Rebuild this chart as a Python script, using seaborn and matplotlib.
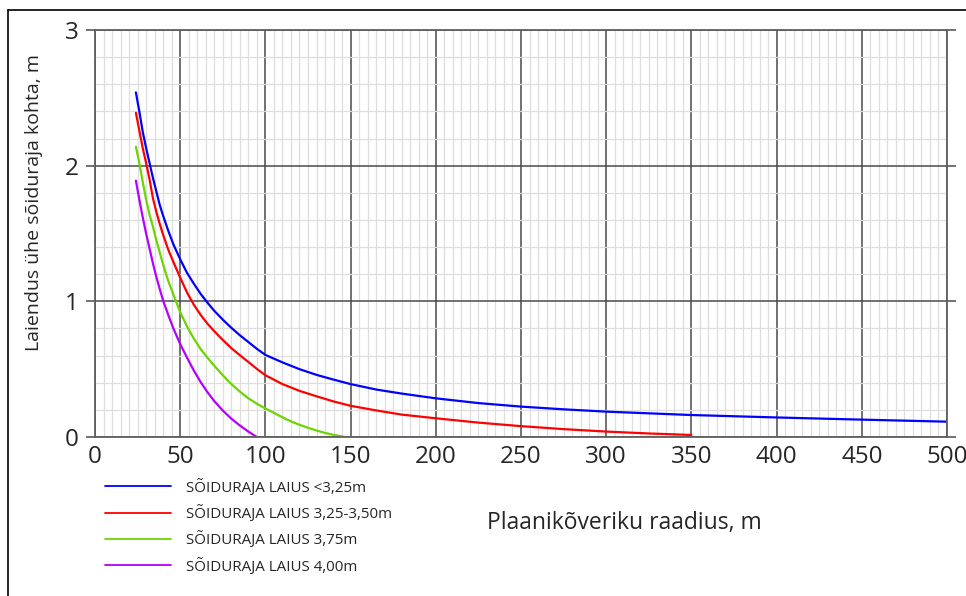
import numpy as np
import pandas as pd
import matplotlib
matplotlib.use("Agg")
import matplotlib.pyplot as plt
from matplotlib.lines import Line2D
from matplotlib.ticker import MultipleLocator
import seaborn as sns

# values (radius m -> widening per lane m)
r_blue = [24, 26, 28, 30, 32, 34, 36, 38, 40, 43, 46, 50, 54, 58, 62, 66, 70,
          75, 80, 85, 90, 95, 100, 110, 120, 130, 140, 150, 165, 180, 200, 225,
          250, 275, 300, 350, 400, 450, 500]
y_blue = [2.54, 2.40, 2.25, 2.13, 2.02, 1.91, 1.81, 1.71, 1.63, 1.52, 1.42,
          1.31, 1.21, 1.13, 1.055, 0.99, 0.93, 0.865, 0.805, 0.75, 0.70, 0.65,
          0.605, 0.55, 0.50, 0.458, 0.423, 0.390, 0.35, 0.32, 0.285, 0.25,
          0.224, 0.204, 0.187, 0.162, 0.144, 0.128, 0.113]

r_red = [24, 26, 28, 30, 32, 34, 36, 38, 40, 43, 46, 50, 54, 58, 62, 66, 70,
         75, 80, 85, 90, 95, 100, 110, 120, 130, 140, 150, 165, 180, 200, 225,
         250, 275, 300, 325, 350]
y_red = [2.39, 2.26, 2.13, 2.02, 1.90, 1.76, 1.66, 1.57, 1.49, 1.38, 1.29,
         1.175, 1.065, 0.975, 0.90, 0.835, 0.78, 0.715, 0.655, 0.603, 0.553,
         0.502, 0.455, 0.39, 0.34, 0.30, 0.262, 0.23, 0.196, 0.165, 0.138,
         0.106, 0.08, 0.058, 0.04, 0.026, 0.015]

r_green = [24, 26, 28, 30, 32, 34, 36, 38, 40, 43, 46, 50, 54, 58, 62, 66, 70,
           75, 80, 85, 90, 95, 100, 105, 110, 115, 120, 125, 130, 135, 140,
           146.7]
y_green = [2.14, 2.02, 1.88, 1.75, 1.64, 1.55, 1.45, 1.36, 1.27, 1.15, 1.05,
           0.92, 0.815, 0.725, 0.648, 0.585, 0.525, 0.455, 0.39, 0.335, 0.285,
           0.245, 0.21, 0.178, 0.145, 0.115, 0.09, 0.068, 0.048, 0.03, 0.016,
           0.0]

r_purple = [24, 26, 28, 30, 32, 34, 36, 38, 40, 43, 46, 50, 54, 58, 62, 66,
            70, 75, 80, 85, 90, 94.9]
y_purple = [1.89, 1.75, 1.62, 1.50, 1.39, 1.28, 1.18, 1.09, 1.005, 0.90, 0.80,
            0.685, 0.585, 0.49, 0.405, 0.33, 0.265, 0.195, 0.135, 0.085, 0.04,
            0.0]

labels = ["SÕIDURAJA LAIUS <3,25m", "SÕIDURAJA LAIUS 3,25-3,50m",
          "SÕIDURAJA LAIUS 3,75m", "SÕIDURAJA LAIUS 4,00m"]
colors = ["#0000ff", "#ff0000", "#6ed400", "#b400ff"]

frames = []
for lab, r, y in zip(labels, [r_blue, r_red, r_green, r_purple],
                     [y_blue, y_red, y_green, y_purple]):
    frames.append(pd.DataFrame({"R": r, "e": y, "rida": lab}))
df = pd.concat(frames, ignore_index=True)

sns.set_style("white")
plt.rcParams["font.family"] = ["Open Sans", "DejaVu Sans"]

fig = plt.figure(figsize=(9.66, 5.96), dpi=100)
ax = fig.add_axes([95 / 966, 1 - 437 / 596, 852 / 966, 407 / 596])

sns.lineplot(data=df, x="R", y="e", hue="rida", palette=colors, sort=False,
             linewidth=1.6, ax=ax, legend=True)

ax.set_xlim(0, 500)
ax.set_ylim(0, 3)
ax.xaxis.set_major_locator(MultipleLocator(50))
ax.xaxis.set_minor_locator(MultipleLocator(5))
ax.yaxis.set_major_locator(MultipleLocator(1))
ax.yaxis.set_minor_locator(MultipleLocator(0.2))
ax.grid(which="minor", color="#dedede", linewidth=0.9)
ax.grid(which="major", color="#4a4a4a", linewidth=1.1)
ax.set_axisbelow(True)
for s in ax.spines.values():
    s.set_color("#606060")
    s.set_linewidth(1.3)

ax.tick_params(axis="y", which="major", left=True, right=True, length=6.5,
               width=1.1, color="#4a4a4a", labelsize=17.5, pad=5)
ax.tick_params(axis="x", which="major", length=0, labelsize=17.5, pad=6)
ax.tick_params(which="minor", length=0)

ax.set_xlabel("")
ax.set_ylabel("Laiendus ühe sõiduraja kohta, m", fontsize=14)
ax.yaxis.set_label_coords(-0.061, 0.575)
fig.text(624 / 966, 1 - 523 / 596, "Plaanikõveriku raadius, m",
         fontsize=16.5, ha="center", va="center")

handles, labs = ax.get_legend_handles_labels()
leg = ax.legend(handles, labs, loc="upper left", frameon=False,
                bbox_to_anchor=(91 / 966, 1 - 465 / 596),
                bbox_transform=fig.transFigure, fontsize=10.9,
                handlelength=4.4, handletextpad=1.0, labelspacing=0.62)
for h in leg.get_lines():
    h.set_linewidth(1.3)

# frame lines at top and left edge of the picture
fig.add_artist(Line2D([8 / 966, 1], [1 - 10 / 596] * 2, color="black",
                      linewidth=1.2, transform=fig.transFigure))
fig.add_artist(Line2D([8 / 966] * 2, [0, 1 - 10 / 596], color="black",
                      linewidth=1.2, transform=fig.transFigure))

fig.savefig("out.png", dpi=100)
